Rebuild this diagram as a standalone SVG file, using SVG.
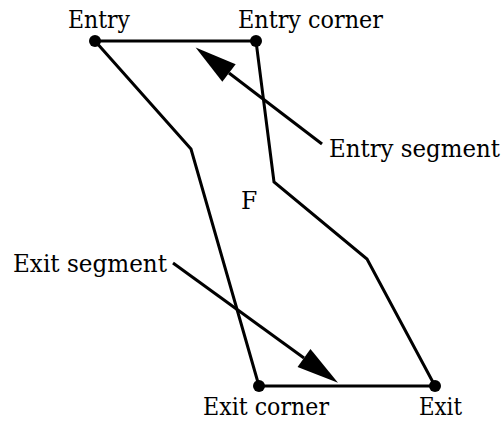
<svg xmlns="http://www.w3.org/2000/svg" width="504" height="423" viewBox="0 0 504 423">
<style>
  .edge { fill: none; stroke: #000; stroke-width: 3; stroke-linejoin: miter; }
  .lbl { font-family: "DejaVu Serif", "Liberation Serif", serif; font-size: 23.5px; fill: #000; }
  .dot { fill: #000; }
</style>
<defs>
  <marker id="arrow" markerUnits="userSpaceOnUse" markerWidth="44" markerHeight="26" refX="0" refY="12" orient="auto" overflow="visible">
    <path d="M0,1 L42,12 L0,23 z" fill="#000"/>
  </marker>
</defs>
<rect width="504" height="423" fill="#fff"/>
<g id="connectors">
  <line class="edge" x1="95" y1="41" x2="256" y2="41"/>
  <line class="edge" x1="259" y1="386" x2="435" y2="386"/>
  <polyline class="edge" points="95,41 191,149 259,386"/>
  <polyline class="edge" points="256,41 274,182 367,259 435,386"/>
  <line class="edge" x1="322" y1="144" x2="229" y2="73" marker-end="url(#arrow)"/>
  <line class="edge" x1="173" y1="263" x2="304" y2="358" marker-end="url(#arrow)"/>
</g>
<g id="entry">
  <circle class="dot" cx="95" cy="41" r="6"/>
  <text class="lbl" x="68" y="28" textLength="62" lengthAdjust="spacingAndGlyphs">Entry</text>
</g>
<g id="entry-corner">
  <circle class="dot" cx="256" cy="41" r="6"/>
  <text class="lbl" x="238" y="28" textLength="145" lengthAdjust="spacingAndGlyphs">Entry corner</text>
</g>
<g id="exit-corner">
  <circle class="dot" cx="259" cy="386" r="6"/>
  <text class="lbl" x="203" y="415" textLength="126" lengthAdjust="spacingAndGlyphs">Exit corner</text>
</g>
<g id="exit">
  <circle class="dot" cx="435" cy="386" r="6"/>
  <text class="lbl" x="419" y="415" textLength="43" lengthAdjust="spacingAndGlyphs">Exit</text>
</g>
<g id="entry-segment">
  <text class="lbl" x="329" y="157" textLength="171" lengthAdjust="spacingAndGlyphs">Entry segment</text>
</g>
<g id="exit-segment">
  <text class="lbl" x="13" y="272" textLength="154" lengthAdjust="spacingAndGlyphs">Exit segment</text>
</g>
<g id="region-f">
  <text class="lbl" x="241" y="209">F</text>
</g>
</svg>
